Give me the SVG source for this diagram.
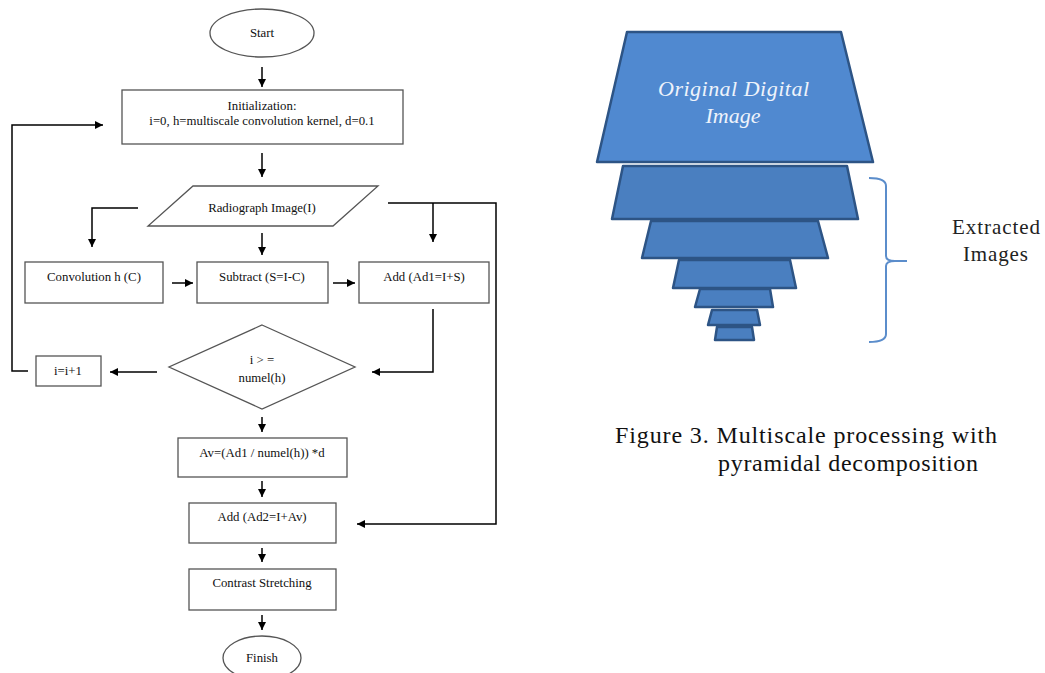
<svg xmlns="http://www.w3.org/2000/svg" width="1045" height="673" viewBox="0 0 1045 673">
<defs>
<marker id="ah" viewBox="0 0 10 10" refX="10" refY="5" markerWidth="8" markerHeight="8" markerUnits="userSpaceOnUse" orient="auto">
<path d="M0,0 L10,5 L0,10 z" fill="#000"/>
</marker>
</defs>
<style>
.box{fill:#fff;stroke:#555;stroke-width:1.3}
.t{font-family:'Liberation Serif','Times New Roman','DejaVu Serif',serif;font-size:12.8px;fill:#111;text-anchor:middle}
.s{font-family:'Liberation Serif','Times New Roman','DejaVu Serif',serif}
.c{fill:none;stroke:#000;stroke-width:1.5;marker-end:url(#ah)}
.lay{stroke:#2d5485;stroke-width:2.5;stroke-linejoin:round}
</style>
<rect width="1045" height="673" fill="#fff"/>

<g id="start"><ellipse class="box" cx="262" cy="33" rx="52" ry="24"/><text class="t" x="262" y="37">Start</text></g>
<g id="init"><rect class="box" x="122" y="90" width="281" height="54"/><text class="t" x="262" y="110">Initialization:</text><text class="t" x="262" y="125">i=0, h=multiscale convolution kernel, d=0.1</text></g>
<g id="radiograph"><polygon class="box" points="193,186 378,186 333,226 148,226"/><text class="t" x="262" y="212">Radiograph Image(I)</text></g>
<g id="convolution"><rect class="box" x="25" y="262" width="138" height="41"/><text class="t" x="94" y="281">Convolution h (C)</text></g>
<g id="subtract"><rect class="box" x="197" y="262" width="131" height="41"/><text class="t" x="262" y="281">Subtract (S=I-C)</text></g>
<g id="add1"><rect class="box" x="359" y="262" width="130" height="41"/><text class="t" x="424" y="281">Add (Ad1=I+S)</text></g>
<g id="decision"><polygon class="box" points="262,325 355,367 262,409 169,367"/><text class="t" x="262" y="364">i &gt; =</text><text class="t" x="262" y="382">numel(h)</text></g>
<g id="increment"><rect class="box" x="36" y="356" width="65" height="30"/><text class="t" x="68" y="375">i=i+1</text></g>
<g id="average"><rect class="box" x="178" y="438" width="169" height="39"/><text class="t" x="262" y="457">Av=(Ad1 / numel(h))  *d</text></g>
<g id="add2"><rect class="box" x="189" y="503" width="147" height="40"/><text class="t" x="262" y="521">Add (Ad2=I+Av)</text></g>
<g id="contrast"><rect class="box" x="189" y="569" width="147" height="41"/><text class="t" x="262" y="587">Contrast Stretching</text></g>
<g id="finish"><ellipse class="box" cx="262" cy="658" rx="39" ry="22"/><text class="t" x="262" y="662">Finish</text></g>

<g id="connectors">
<path class="c" d="M262,67 V87"/>
<path class="c" d="M262,153 V177"/>
<path class="c" d="M138,208 H92 V247"/>
<path class="c" d="M262,233 V255"/>
<path class="c" d="M388,203 H496 V524 H357"/>
<path class="c" d="M433,203 V242"/>
<path class="c" d="M172,283 H193"/>
<path class="c" d="M333,283 H355"/>
<path class="c" d="M433,309 V372 H372"/>
<path class="c" d="M157,372 H110"/>
<path class="c" d="M28,371 H12 V125 H103"/>
<path class="c" d="M262,417 V432"/>
<path class="c" d="M262,481 V497"/>
<path class="c" d="M262,548 V562"/>
<path class="c" d="M262,615 V630"/>
</g>

<g id="pyramid">
<polygon class="lay" fill="#5089d0" points="627,32 841,32 873,162 597,162"/>
<text class="s" x="658" y="96" font-style="italic" font-size="22" fill="#eef3fb" textLength="151">Original Digital</text>
<text class="s" x="733" y="123" font-style="italic" font-size="22" fill="#eef3fb" text-anchor="middle">Image</text>
<polygon class="lay" fill="#4a7fc0" points="623,166 847,166 858,219 612,219"/>
<polygon class="lay" fill="#4a7fc0" points="651,221 818,221 828,258 642,258"/>
<polygon class="lay" fill="#4a7fc0" points="679,260 790,260 796,288 673,288"/>
<polygon class="lay" fill="#4a7fc0" points="700,289 770,289 773,307 695,307"/>
<polygon class="lay" fill="#4a7fc0" points="712,310 757,310 760,325 708,325"/>
<polygon class="lay" fill="#4a7fc0" points="717,327 752,327 754,340 715,340"/>
</g>
<g id="bracket">
<path d="M869,178 Q886,178 886,186 V256 Q886,261 895,261 H907 M895,261 Q886,261 886,266 V334 Q886,342 869,342" fill="none" stroke="#5b8dcb" stroke-width="2"/>
</g>
<g id="extracted-label">
<text class="s" x="952" y="234" font-size="21" fill="#222" textLength="88">Extracted</text>
<text class="s" x="963" y="261" font-size="21" fill="#222" textLength="65">Images</text>
</g>
<g id="caption">
<text class="s" x="615" y="443" font-size="24" fill="#111" textLength="382">Figure 3. Multiscale processing with</text>
<text class="s" x="718" y="471" font-size="24" fill="#111" textLength="260">pyramidal decomposition</text>
</g>
</svg>
